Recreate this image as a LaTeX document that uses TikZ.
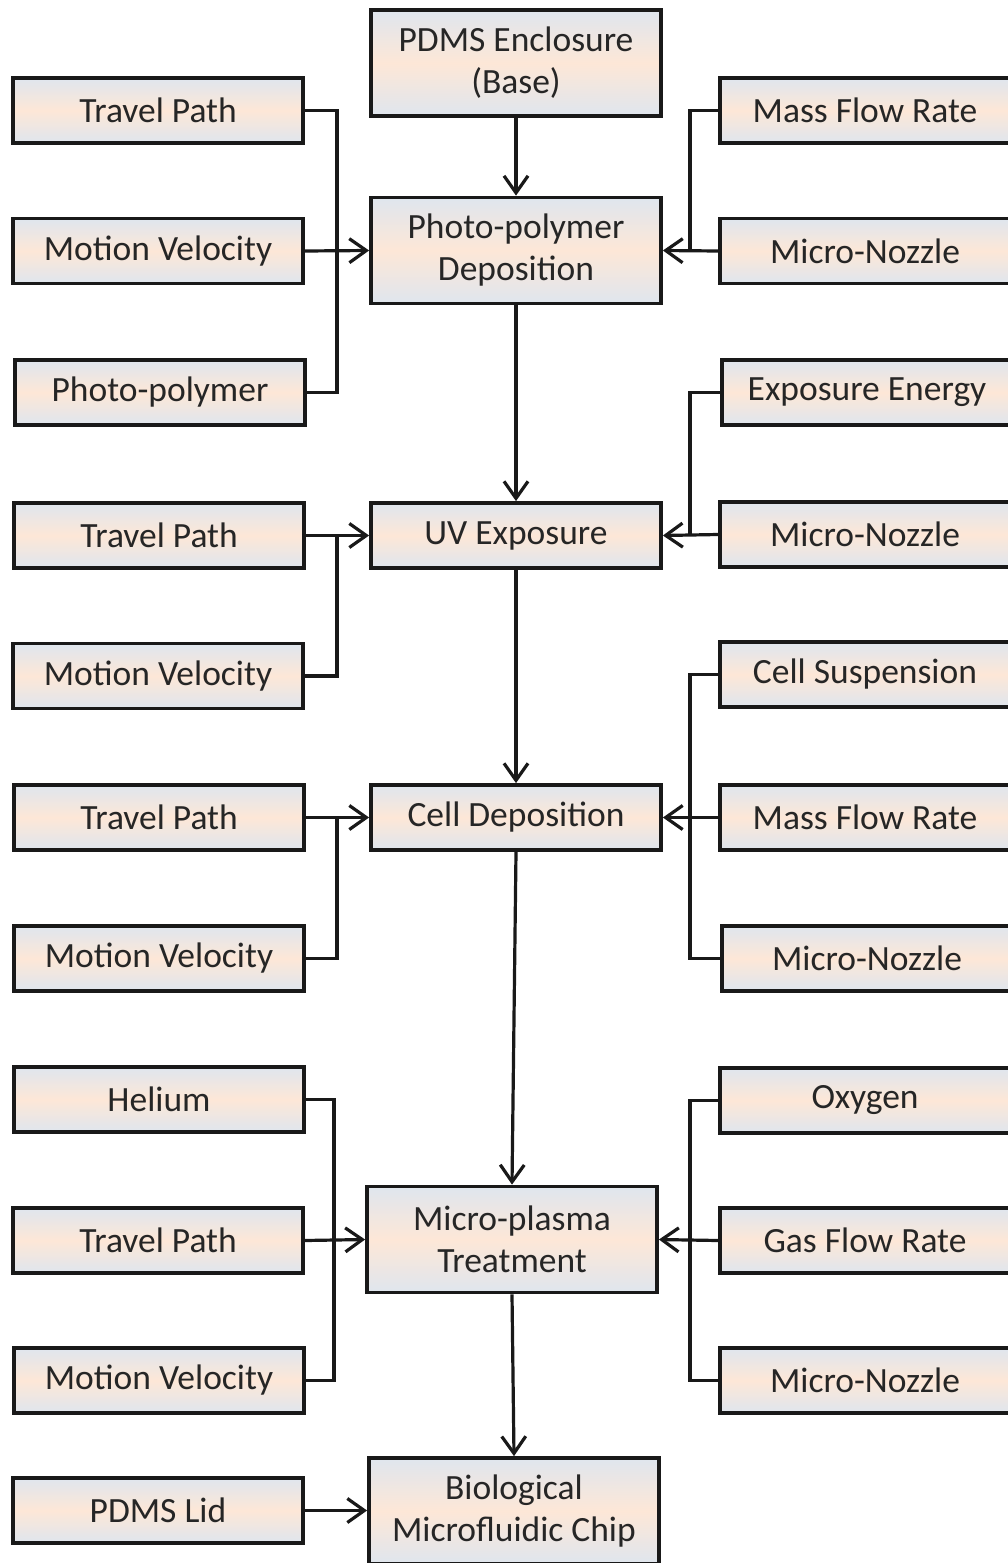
\documentclass[tikz,border=0pt]{standalone}
\usepackage{fontspec}
\setmainfont{Carlito}
\usetikzlibrary{arrows.meta}
\definecolor{bgtop}{HTML}{DFE6EE}
\definecolor{bgmid}{HTML}{FDE7D7}
\definecolor{txt}{HTML}{262626}
\tikzset{
  box/.style={draw=black!90, line width=3.8pt, top color=bgtop, bottom color=bgtop, middle color=bgmid,
    minimum width=290pt, minimum height=65pt, inner sep=0pt, align=center, text=txt,
    font=\fontsize{35.5}{42}\selectfont},
  tall/.style={minimum height=106pt},
  wire/.style={line width=3.2pt, draw=black!90},
  arr/.style={wire, -{Straight Barb[length=17pt,width=24pt,line width=3.2pt]}}
}
\begin{document}
\begin{tikzpicture}[x=1pt,y=-1pt]
\useasboundingbox[fill=white] (0,0) rectangle (1007,1563);
% center column
\node[box,tall] (pdms) at (516,63) {PDMS Enclosure\\(Base)};
\node[box,tall] (ppd) at (516,250.5) {Photo-polymer\\Deposition};
\node[box] (uv) at (516,535.5) {UV Exposure};
\node[box] (cd) at (516,817.5) {Cell Deposition};
\node[box,tall] (mp) at (512,1239.5) {Micro-plasma\\Treatment};
\node[box,tall] (bio) at (514,1511) {Biological\\Microfluidic Chip};
% left column
\node[box] (tp1) at (158,110.5) {Travel Path};
\node[box] (mv1) at (158,251) {Motion Velocity};
\node[box] (pp1) at (160,392.5) {Photo-polymer};
\node[box] (tp2) at (159,535.5) {Travel Path};
\node[box] (mv2) at (158,676) {Motion Velocity};
\node[box] (tp3) at (159,817.5) {Travel Path};
\node[box] (mv3) at (159,958.5) {Motion Velocity};
\node[box] (he) at (159,1099.5) {Helium};
\node[box] (tp4) at (158,1240.5) {Travel Path};
\node[box] (mv4) at (159,1380.5) {Motion Velocity};
\node[box] (lid) at (158,1510.5) {PDMS Lid};
% right column
\node[box] (mfr1) at (865,110.5) {Mass Flow Rate};
\node[box] (mn1) at (865,251) {Micro-Nozzle};
\node[box] (ee) at (867,392.5) {Exposure Energy};
\node[box] (mn2) at (865,534.5) {Micro-Nozzle};
\node[box] (cs) at (865,674.5) {Cell Suspension};
\node[box] (mfr2) at (865,817.5) {Mass Flow Rate};
\node[box] (mn3) at (867,958.5) {Micro-Nozzle};
\node[box] (ox) at (865,1100.5) {Oxygen};
\node[box] (gfr) at (865,1240.5) {Gas Flow Rate};
\node[box] (mn4) at (865,1380.5) {Micro-Nozzle};
% bus coordinates
\coordinate (lb1) at (337,251);
\coordinate (lb2) at (337,535.5);
\coordinate (lb3) at (337,817.5);
\coordinate (lb4) at (334,1240.5);
\coordinate (rb1) at (690,251);
\coordinate (rb2) at (690,534.5);
\coordinate (rb3) at (690,817.5);
\coordinate (rb4) at (690,1240.5);
% vertical flow
\draw[arr] (pdms.south) -- (ppd.north);
\draw[arr] (ppd.south) -- (uv.north);
\draw[arr] (uv.south) -- (cd.north);
\draw[arr] (cd.south) -- (mp.north);
\draw[arr] (mp.south) -- (bio.north);
% group 1
\draw[wire] (tp1.east) -| (lb1) |- (pp1.east);
\draw[arr] (mv1.east) -- (ppd.west);
\draw[wire] (mfr1.west) -| (rb1);
\draw[arr] (mn1.west) -- (ppd.east);
% group 2
\draw[wire] (mv2.east) -| (lb2);
\draw[arr] (tp2.east) -- (uv.west);
\draw[wire] (ee.west) -| (rb2);
\draw[arr] (mn2.west) -- (uv.east);
% group 3
\draw[wire] (mv3.east) -| (lb3);
\draw[arr] (tp3.east) -- (cd.west);
\draw[wire] (cs.west) -| (rb3) |- (mn3.west);
\draw[arr] (mfr2.west) -- (cd.east);
% group 4
\draw[wire] (he.east) -| (lb4) |- (mv4.east);
\draw[arr] (tp4.east) -- (mp.west);
\draw[wire] (ox.west) -| (rb4) |- (mn4.west);
\draw[arr] (gfr.west) -- (mp.east);
% lid
\draw[arr] (lid.east) -- (bio.west |- lid.east);
\end{tikzpicture}
\end{document}
